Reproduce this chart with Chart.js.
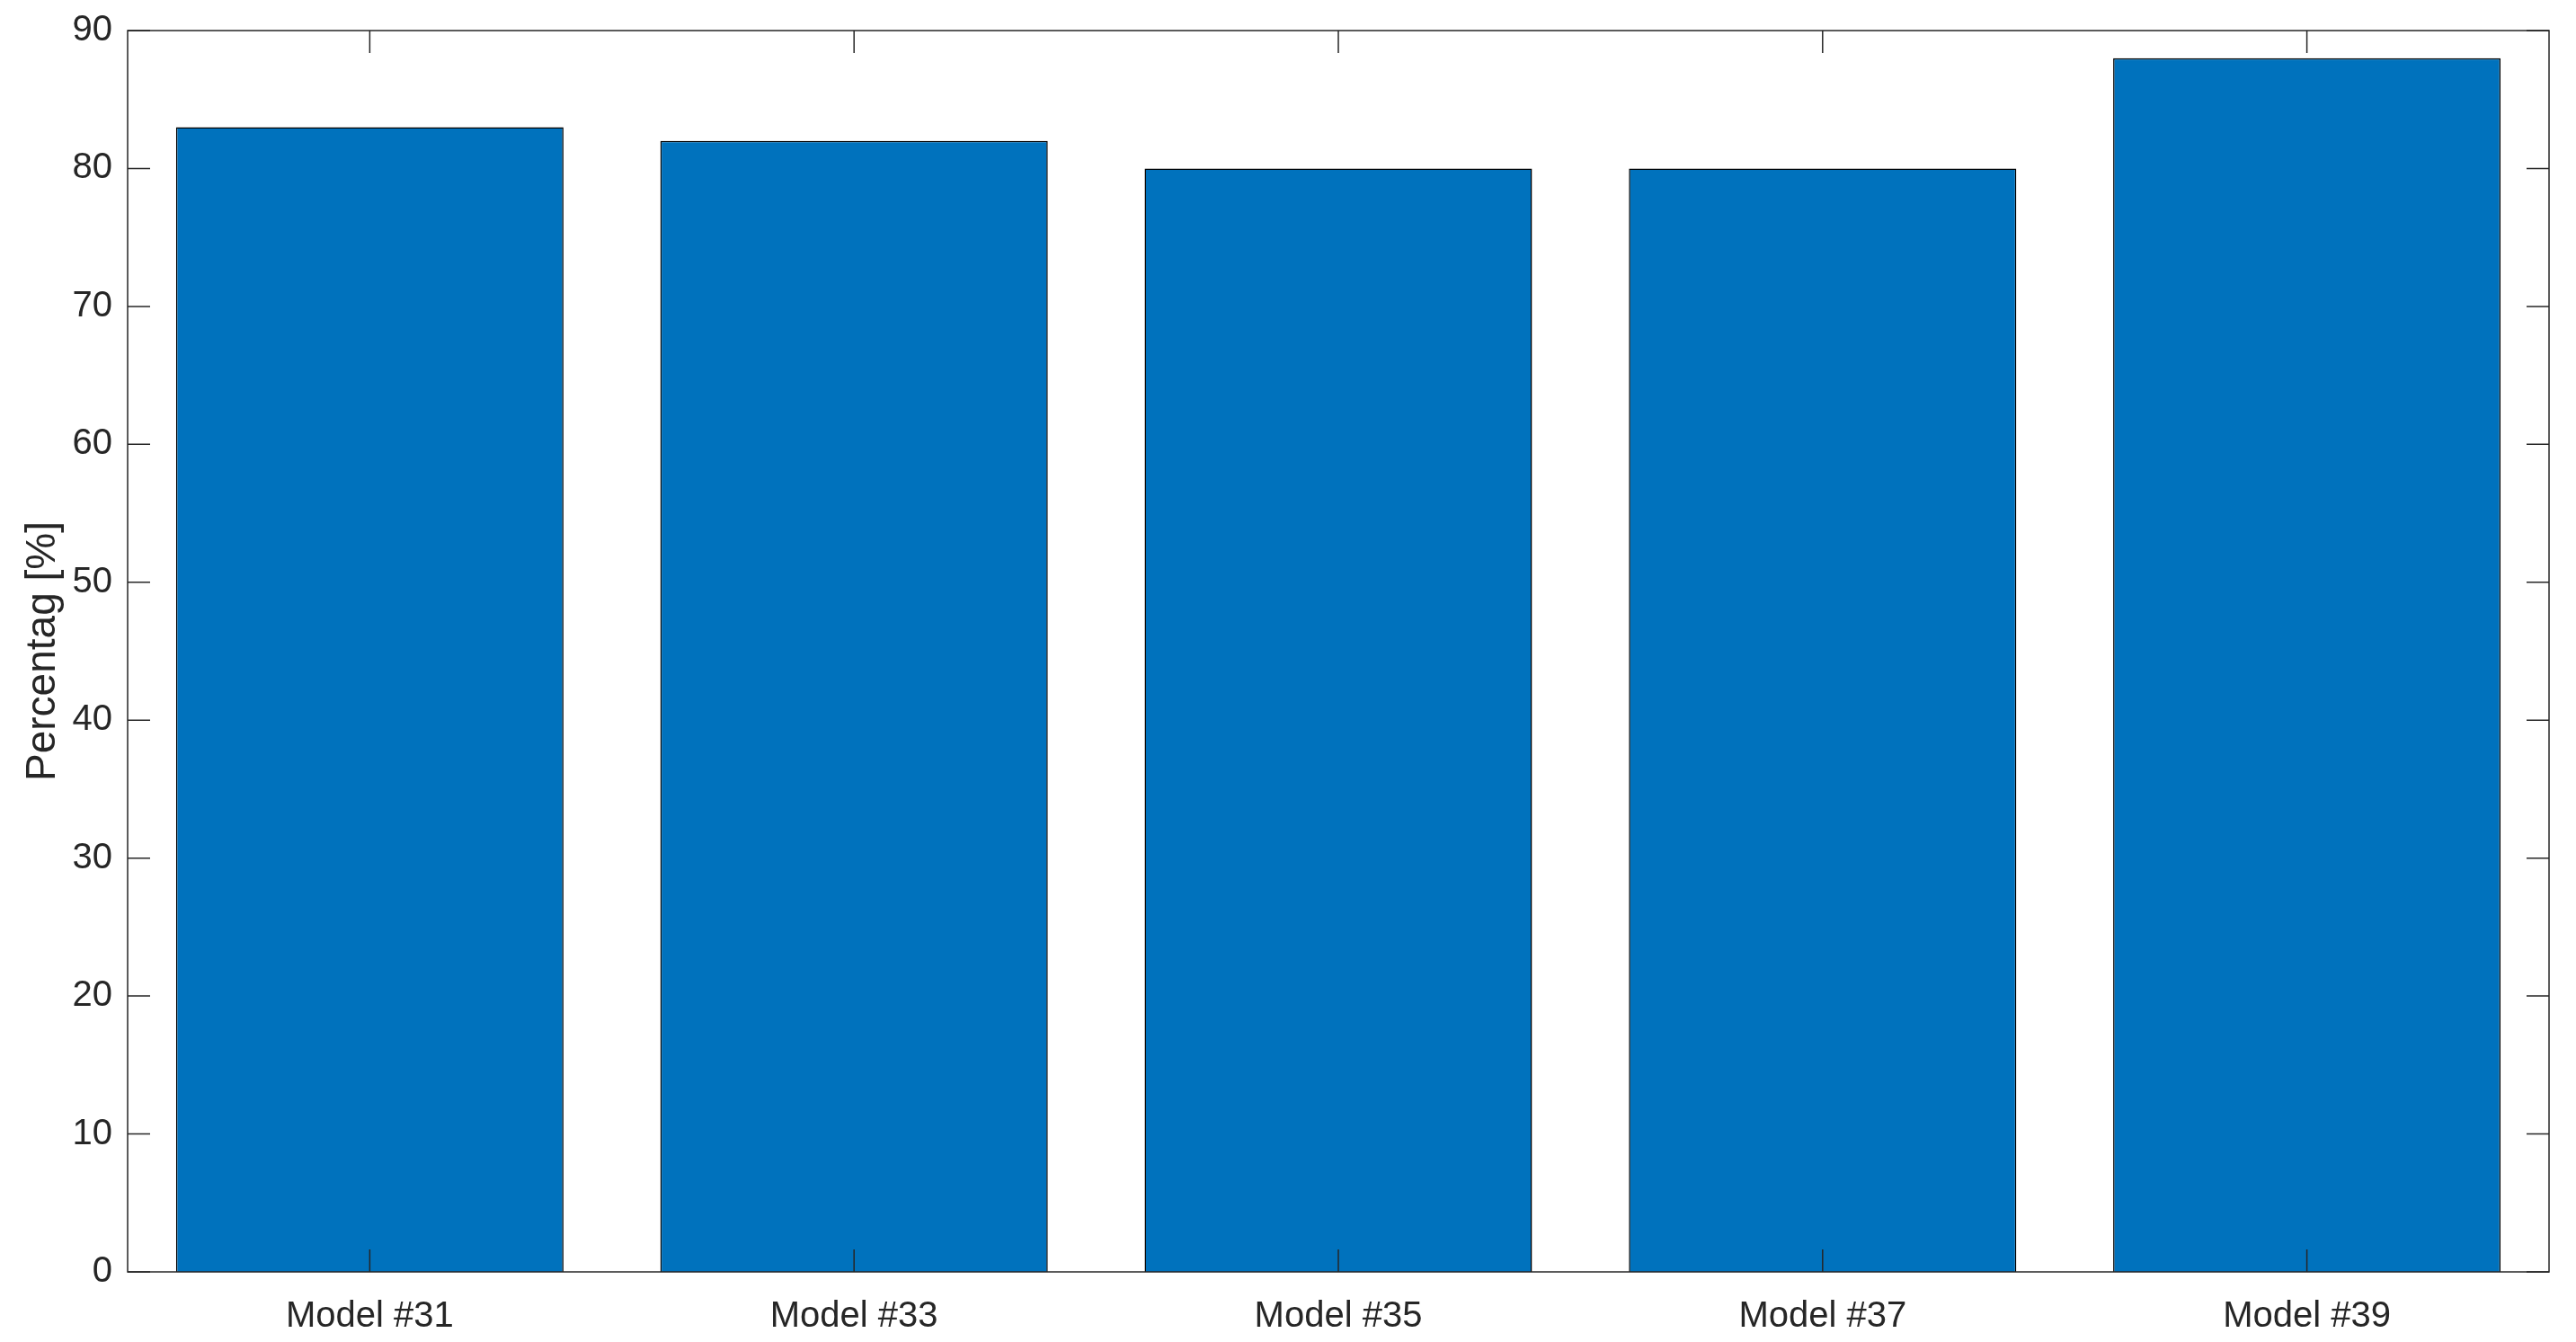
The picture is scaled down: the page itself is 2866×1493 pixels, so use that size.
<!DOCTYPE html>
<html>
<head>
<meta charset="utf-8">
<script src="https://cdn.jsdelivr.net/npm/chart.js@4"></script>
<style>
  html, body { margin: 0; padding: 0; background: #fff; }
  #wrap { width: 2866px; height: 1493px; }
</style>
</head>
<body>
<div id="wrap"><canvas id="barChart"></canvas></div>
<script>
// chart data
const categories = ["Model #31", "Model #33", "Model #35", "Model #37", "Model #39"];
const percentValues = [83, 82, 80, 80, 88];
const yTicks = [0, 10, 20, 30, 40, 50, 60, 70, 80, 90];

const axisColor = "#262626";
const fontFamily = "'Liberation Sans', Arial, sans-serif";

// draws the MATLAB style box with inward ticks on all four sides
const boxAxes = {
    id: "boxAxes",
    afterDatasetsDraw(chart) {
        const ctx = chart.ctx;
        const area = chart.chartArea;
        const x = chart.scales.x;
        const y = chart.scales.y;
        const tickLen = 25;
        ctx.save();
        ctx.strokeStyle = axisColor;
        ctx.lineWidth = 1.5;
        ctx.beginPath();
        x.ticks.forEach((t, i) => {
            const px = x.getPixelForTick(i);
            ctx.moveTo(px, area.bottom);
            ctx.lineTo(px, area.bottom - tickLen);
            ctx.moveTo(px, area.top);
            ctx.lineTo(px, area.top + tickLen);
        });
        yTicks.forEach(v => {
            const py = y.getPixelForValue(v);
            ctx.moveTo(area.left, py);
            ctx.lineTo(area.left + tickLen, py);
            ctx.moveTo(area.right, py);
            ctx.lineTo(area.right - tickLen, py);
        });
        ctx.stroke();
        ctx.strokeRect(area.left, area.top, area.right - area.left, area.bottom - area.top);
        ctx.restore();
    }
};

document.addEventListener("DOMContentLoaded", () => {
    const ctx = document.getElementById("barChart").getContext("2d");
    new Chart(ctx, {
        type: "bar",
        data: {
            labels: categories,
            datasets: [
                {
                    label: "Percentag",
                    data: percentValues,
                    backgroundColor: "#0072BD",
                    borderColor: "#000000",
                    borderWidth: 1.5,
                    barPercentage: 0.8,
                    categoryPercentage: 1.0,
                },
            ],
        },
        options: {
            responsive: true,
            maintainAspectRatio: false,
            animation: false,
            layout: {
                padding: { left: 0, top: 34, right: 30, bottom: 0 },
            },
            plugins: {
                legend: { display: false },
                tooltip: { enabled: false },
            },
            scales: {
                x: {
                    grid: { display: false, drawTicks: false },
                    border: { display: false },
                    ticks: {
                        color: axisColor,
                        font: { family: fontFamily, size: 40 },
                        padding: 26,
                        maxRotation: 0,
                    },
                    afterFit(scale) {
                        scale.height = 78;
                        scale.paddingLeft = 0;
                        scale.paddingRight = 0;
                    },
                },
                y: {
                    min: 0,
                    max: 90,
                    grid: { display: false, drawTicks: false },
                    border: { display: false },
                    afterBuildTicks(scale) {
                        scale.ticks = yTicks.map(v => ({ value: v }));
                    },
                    ticks: {
                        color: axisColor,
                        font: { family: fontFamily, size: 40 },
                        padding: 17,
                    },
                    title: {
                        display: true,
                        text: "Percentag [%]",
                        color: axisColor,
                        font: { family: fontFamily, size: 46 },
                        padding: { top: 21, bottom: 0 },
                    },
                    afterFit(scale) {
                        scale.width = 142;
                        // keep the label overflow from pushing the plot area down
                        scale.paddingTop = 0;
                        scale.paddingBottom = 0;
                    },
                },
            },
        },
        plugins: [boxAxes],
    });
});
</script>
</body>
</html>
